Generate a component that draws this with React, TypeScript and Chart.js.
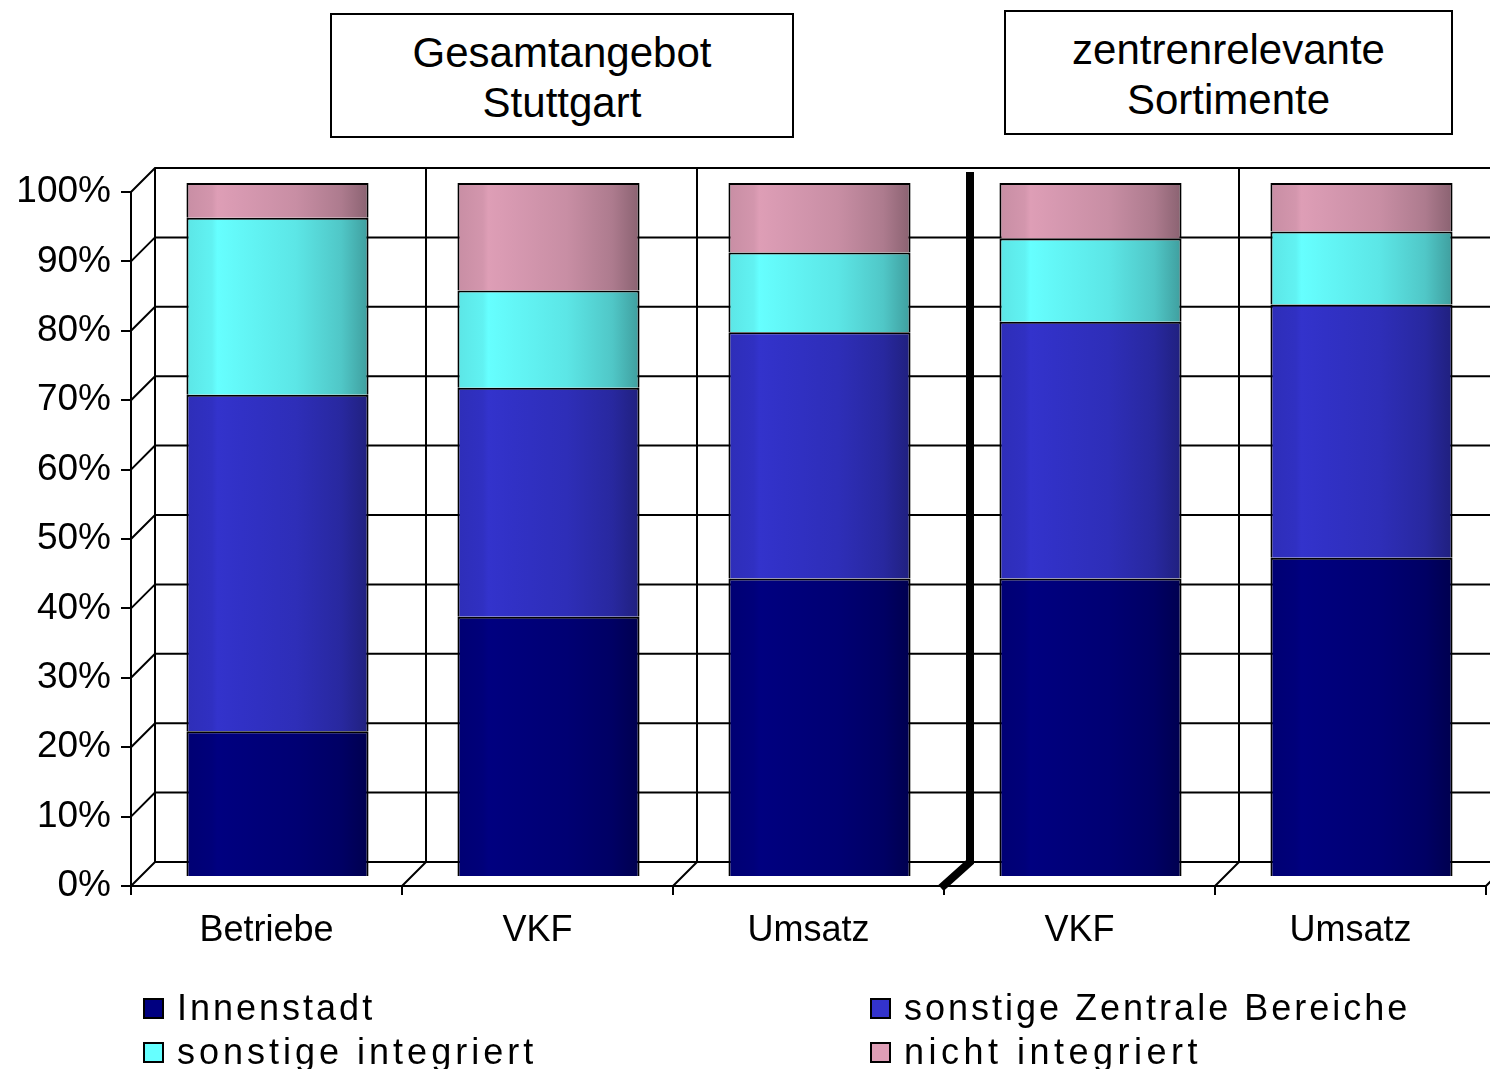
import React, { useEffect, useRef } from "react";
import { Chart, registerables } from "chart.js";

Chart.register(...registerables);

// ---------- data ----------
const categories = ["Betriebe", "VKF", "Umsatz", "VKF", "Umsatz"];
const seriesNames = ["Innenstadt", "sonstige Zentrale Bereiche", "sonstige integriert", "nicht integriert"];
const innenstadt = [21, 37.5, 43, 43, 46];
const sonstigeZentrale = [48.5, 33, 35.5, 37, 36.5];
const sonstigeIntegriert = [25.5, 14, 11.5, 12, 10.5];
const nichtIntegriert = [5, 15.5, 10, 8, 7];
const yTickValues = [0, 10, 20, 30, 40, 50, 60, 70, 80, 90, 100];
const titleLeft = ["Gesamtangebot", "Stuttgart"];
const titleRight = ["zentrenrelevante", "Sortimente"];
const seriesColors = ["#000080", "#3333CC", "#66FFFF", "#DE9EB6"];

// ---------- style constants ----------
const FONT = "'Liberation Sans', Arial, Helvetica, sans-serif";
const DX = 24; // depth offset of the back wall
const DY = -24;
const BAR_DX = 11; // bars sit mid-depth
const BAR_DY = -9;
const BAR_FRAC = 0.672;
const BREAK_INDEX = 3;

function shade(hex: string, f: number): string {
  const h = hex.replace("#", "");
  const r = parseInt(h.slice(0, 2), 16);
  const g = parseInt(h.slice(2, 4), 16);
  const b = parseInt(h.slice(4, 6), 16);
  const c = (v: number) => Math.max(0, Math.min(255, Math.round(v * f)));
  return `rgb(${c(r)},${c(g)},${c(b)})`;
}

function cylinder(base: string) {
  return (c: any) => {
    const chart = c.chart;
    const ca = chart.chartArea;
    const xs = chart.scales && chart.scales.x;
    if (!ca || !xs || c.dataIndex === undefined) return base;
    const cw = (ca.right - ca.left) / categories.length;
    const half = (cw * BAR_FRAC) / 2;
    const cx = xs.getPixelForValue(c.dataIndex);
    const g = chart.ctx.createLinearGradient(cx - half, 0, cx + half, 0);
    g.addColorStop(0, shade(base, 0.9));
    g.addColorStop(0.14, shade(base, 0.95));
    g.addColorStop(0.17, shade(base, 1.0));
    g.addColorStop(0.3, shade(base, 0.97));
    g.addColorStop(0.6, shade(base, 0.9));
    g.addColorStop(0.85, shade(base, 0.78));
    g.addColorStop(1, shade(base, 0.62));
    return g;
  };
}

const wallsPlugin = {
  id: "walls3d",
  beforeDatasetsDraw(chart: any) {
    const { ctx, chartArea: ca, scales } = chart;
    const y = scales.y;
    const n = categories.length;
    const cw = (ca.right - ca.left) / n;
    const y0 = y.getPixelForValue(0);
    const y100 = y.getPixelForValue(100);
    ctx.save();
    ctx.strokeStyle = "#000";
    ctx.lineWidth = 2;
    ctx.beginPath();
    for (const v of yTickValues) {
      const yy = y.getPixelForValue(v);
      ctx.moveTo(ca.left, yy);
      ctx.lineTo(ca.left + DX, yy + DY);
      ctx.lineTo(ca.right + DX + 20, yy + DY);
    }
    ctx.moveTo(ca.left + DX, y0 + DY);
    ctx.lineTo(ca.left + DX, y100 + DY);
    for (let i = 1; i <= n; i++) {
      if (i === BREAK_INDEX) continue;
      const bx = ca.left + i * cw;
      ctx.moveTo(bx, y0);
      ctx.lineTo(bx + DX, y0 + DY);
      if (i < n) {
        ctx.moveTo(bx + DX, y0 + DY);
        ctx.lineTo(bx + DX, y100 + DY);
      }
    }
    ctx.stroke();
    // group break
    const bx = ca.left + BREAK_INDEX * cw;
    ctx.lineWidth = 8;
    ctx.lineJoin = "miter";
    ctx.beginPath();
    ctx.moveTo(bx + DX + 2, y100 + DY + 4);
    ctx.lineTo(bx + DX + 2, y0 + DY);
    ctx.lineTo(bx - 3, y0 + 2);
    ctx.stroke();
    ctx.restore();
    ctx.save();
    ctx.translate(BAR_DX, BAR_DY);
  },
  afterDatasetsDraw(chart: any) {
    chart.ctx.restore();
  },
};

export default function App() {
  const ref = useRef<HTMLCanvasElement | null>(null);

  useEffect(() => {
    if (!ref.current) return;
    const values = [innenstadt, sonstigeZentrale, sonstigeIntegriert, nichtIntegriert];
    const chart = new Chart(ref.current, {
      type: "bar",
      data: {
        labels: categories,
        datasets: values.map((d, i) => ({
          label: seriesNames[i],
          data: d,
          backgroundColor: cylinder(seriesColors[i]),
          borderColor: "#000",
          borderWidth: 2,
          barPercentage: BAR_FRAC,
          categoryPercentage: 1,
        })),
      },
      options: {
        animation: false,
        responsive: true,
        maintainAspectRatio: false,
        layout: { padding: { top: 192, right: 4, left: 0, bottom: 0 } },
        plugins: {
          legend: { display: false },
          tooltip: { enabled: false },
        },
        scales: {
          x: {
            stacked: true,
            afterFit: (s: any) => {
              s.height = 183;
            },
            grid: {
              display: true,
              offset: true,
              drawOnChartArea: false,
              drawTicks: true,
              tickLength: 9,
              color: "#000",
              lineWidth: 2,
            },
            border: { display: true, color: "#000", width: 2 },
            ticks: {
              color: "#000",
              padding: 14,
              font: { family: FONT, size: 36 },
            },
          },
          y: {
            stacked: true,
            min: 0,
            max: 100,
            afterFit: (s: any) => {
              s.width = 131;
            },
            grid: {
              display: true,
              drawOnChartArea: false,
              drawTicks: true,
              tickLength: 10,
              color: "#000",
              lineWidth: 2,
            },
            border: { display: true, color: "#000", width: 2 },
            ticks: {
              stepSize: 10,
              color: "#000",
              padding: 10,
              font: { family: FONT, size: 37 },
              callback: (v: any) => `${v}%`,
            },
          },
        },
      },
      plugins: [wallsPlugin],
    });
    return () => chart.destroy();
  }, []);

  const boxStyle = (left: number, top: number, width: number, height: number): React.CSSProperties => ({
    position: "absolute",
    left,
    top,
    width,
    height,
    boxSizing: "border-box",
    border: "2px solid #000",
    background: "#fff",
    display: "flex",
    flexDirection: "column",
    justifyContent: "center",
    alignItems: "center",
    paddingTop: 4,
    fontFamily: FONT,
    fontSize: 42,
    lineHeight: "50px",
    color: "#000",
  });

  const legendPos = [
    { left: 143, top: 990, ls: 3 },
    { left: 870, top: 990, ls: 3 },
    { left: 143, top: 1034, ls: 4 },
    { left: 870, top: 1034, ls: 4.5 },
  ];

  return (
    <div
      style={{
        position: "fixed",
        left: 0,
        top: 0,
        width: 1490,
        height: 1069,
        overflow: "hidden",
        background: "#fff",
      }}
    >
      <div style={{ position: "absolute", left: 0, top: 0, width: 1490, height: 1069 }}>
        <canvas ref={ref} style={{ display: "block" }} />
      </div>
      <div style={boxStyle(330, 13, 464, 125)}>
        {titleLeft.map((t) => (
          <div key={t}>{t}</div>
        ))}
      </div>
      <div style={boxStyle(1004, 10, 449, 125)}>
        {titleRight.map((t) => (
          <div key={t}>{t}</div>
        ))}
      </div>
      {seriesNames.map((name, i) => (
        <div
          key={name}
          style={{
            position: "absolute",
            left: legendPos[i].left,
            top: legendPos[i].top,
            display: "flex",
            alignItems: "center",
            fontFamily: FONT,
            fontSize: 36,
            letterSpacing: `${legendPos[i].ls}px`,
            lineHeight: "36px",
            color: "#000",
            whiteSpace: "nowrap",
          }}
        >
          <span
            style={{
              display: "inline-block",
              width: 21,
              height: 21,
              boxSizing: "border-box",
              border: "2px solid #000",
              background: seriesColors[i],
              marginRight: 13,
            }}
          />
          <span>{name}</span>
        </div>
      ))}
    </div>
  );
}
